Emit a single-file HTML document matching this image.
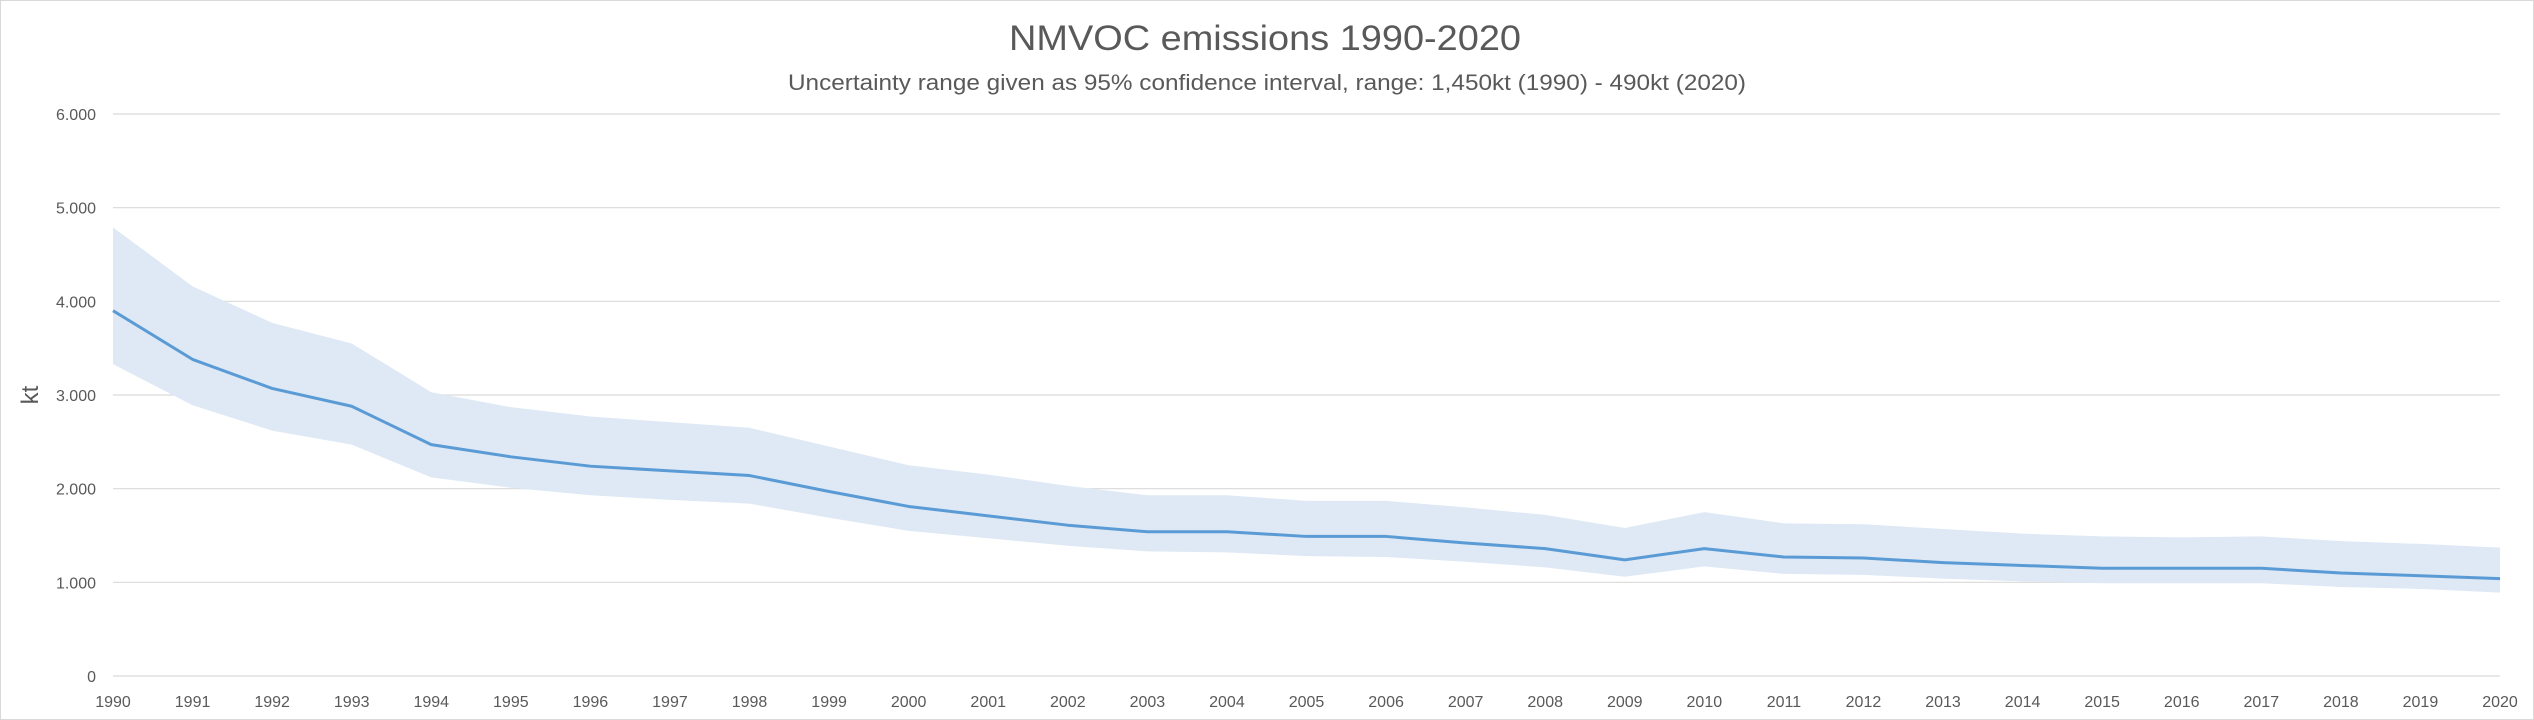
<!DOCTYPE html>
<html><head><style>html,body{margin:0;padding:0;background:#fff}svg{display:block}</style></head><body>
<svg width="2534" height="720" xmlns="http://www.w3.org/2000/svg" font-family="'Liberation Sans', sans-serif">
<rect x="0.5" y="0.5" width="2533" height="719" fill="#fff" stroke="#d9d9d9"/>
<text x="1265" y="50" font-size="35" fill="#595959" text-anchor="middle" textLength="512" lengthAdjust="spacingAndGlyphs">NMVOC emissions 1990-2020</text>
<text x="1267" y="90" font-size="22" fill="#595959" text-anchor="middle" textLength="958" lengthAdjust="spacingAndGlyphs">Uncertainty range given as 95% confidence interval, range: 1,450kt (1990) - 490kt (2020)</text>
<g stroke="#d9d9d9" stroke-width="1.2" id="grid"></g>
<g id="ylab" font-size="16" fill="#595959" text-anchor="end"></g>
<text x="0" y="0" font-size="24" fill="#595959" text-anchor="middle" transform="translate(38,395) rotate(-90)">kt</text>
<path id="band" fill="#dee9f5"/>
<path id="line" fill="none" stroke="#5b9bd5" stroke-width="3" stroke-linejoin="round"/>
<g id="xlab" font-size="16" fill="#595959" text-anchor="middle"></g>
</svg>
<script>
var NS="http://www.w3.org/2000/svg";
var x0=113,dx=(2500-113)/30,y0=676,k=(676-114)/6000;
function X(i){return x0+i*dx}function Y(v){return y0-v*k}
var c=[3900,3380,3070,2880,2470,2340,2240,2190,2140,1970,1810,1710,1610,1540,1540,1490,1490,1420,1360,1240,1360,1270,1260,1210,1180,1150,1150,1150,1100,1070,1040];
var u=[4790,4160,3770,3550,3030,2870,2770,2710,2650,2450,2250,2150,2030,1930,1930,1870,1870,1800,1720,1580,1750,1630,1620,1570,1520,1490,1480,1490,1440,1410,1370];
var l=[3330,2890,2620,2470,2120,2010,1930,1880,1840,1690,1550,1470,1390,1330,1320,1280,1270,1220,1160,1060,1170,1090,1080,1040,1010,990,990,990,950,930,890];
var g=document.getElementById('grid'),yl=document.getElementById('ylab'),xl=document.getElementById('xlab');
var labs=['0','1.000','2.000','3.000','4.000','5.000','6.000'];
for(var i=0;i<=6;i++){var y=Y(i*1000);var ln=document.createElementNS(NS,'line');ln.setAttribute('x1',x0);ln.setAttribute('x2',2500);ln.setAttribute('y1',y);ln.setAttribute('y2',y);g.appendChild(ln);
var t=document.createElementNS(NS,'text');t.setAttribute('x',96);t.setAttribute('y',y+6);t.textContent=labs[i];yl.appendChild(t);}
for(var i=0;i<=30;i++){var t=document.createElementNS(NS,'text');t.setAttribute('x',X(i));t.setAttribute('y',707);t.textContent=1990+i;xl.appendChild(t);}
var d='M'+X(0)+','+Y(u[0]);for(var i=1;i<=30;i++)d+='L'+X(i)+','+Y(u[i]);for(var i=30;i>=0;i--)d+='L'+X(i)+','+Y(l[i]);d+='Z';
document.getElementById('band').setAttribute('d',d);
var e='M'+X(0)+','+Y(c[0]);for(var i=1;i<=30;i++)e+='L'+X(i)+','+Y(c[i]);
document.getElementById('line').setAttribute('d',e);
</script>
</body></html>
